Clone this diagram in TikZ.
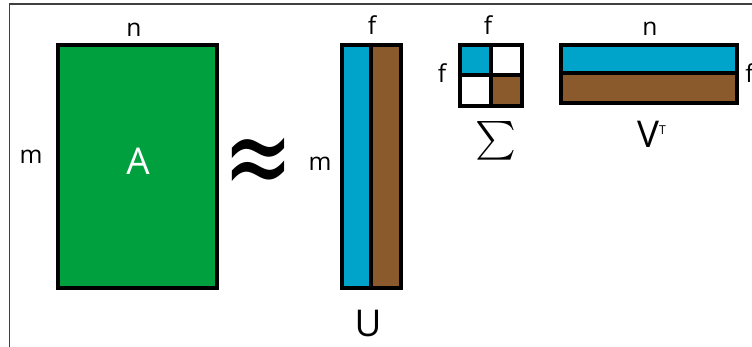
\documentclass[tikz,border=0pt]{standalone}
\usepackage{fontspec}
\setmainfont{Open Sans}
\newfontfamily\symbfont{DejaVu Sans}
\definecolor{matgreen}{RGB}{0,160,62}
\definecolor{matblue}{RGB}{0,164,202}
\definecolor{matbrown}{RGB}{138,90,44}
\tikzset{
  matbox/.style={draw=black, line width=2pt},
  dimlabel/.style={font=\fontsize{14}{14}\selectfont, anchor=base, inner sep=0pt},
  namelabel/.style={font=\fontsize{21}{21}\selectfont, anchor=base, inner sep=0pt},
}
\begin{document}
\begin{tikzpicture}[x=0.02cm, y=-0.02cm]
\useasboundingbox (0,0) rectangle (752,347);

% Cornice
\draw[line width=1pt, black!75] (9.5,347) -- (9.5,4) -- (752,4);

% Matrice A
\filldraw[matbox, fill=matgreen] (58,45) rectangle (217,288);
\node[namelabel, white] (labA) at (138,175) {A};
\node[dimlabel] (nA) at (134,37) {n};
\node[dimlabel] (mA) at (31,164) {m};

% Simbolo
\node[font=\symbfont\fontsize{38}{38}\selectfont, inner sep=0pt] (approx) at (258,168) {\scalebox{1.25}[1.8]{≈}};

% Matrice U
\fill[matblue] (342,45) rectangle (371,288);
\fill[matbrown] (371,45) rectangle (401,288);
\draw[matbox] (342,45) rectangle (401,288) (371,45) -- (371,288);
\node[namelabel] (labU) at (368,337) {U};
\node[dimlabel] (fU) at (372,35) {f};
\node[dimlabel] (mU) at (320,171) {m};

% Matrice Sigma
\fill[matblue] (460,45) rectangle (491,75);
\fill[matbrown] (491,75) rectangle (522,106);
\draw[matbox] (460,45) rectangle (522,106) (491,45) -- (491,106) (460,75) -- (522,75);
\node[inner sep=0pt] (labS) at (496,141) {\scalebox{2.2}{$\sum$}};
\node[dimlabel] (fStop) at (488,35) {f};
\node[dimlabel] (fSleft) at (442,83) {f};

% Matrice V trasposta
\fill[matblue] (561,45) rectangle (737,73);
\fill[matbrown] (561,73) rectangle (737,103);
\draw[matbox] (561,45) rectangle (737,103) (561,73) -- (737,73);
\node[namelabel] (labV) at (652,148) {V\textsuperscript{\fontsize{7}{7}\selectfont T}};
\node[dimlabel] (nV) at (650,36) {n};
\node[dimlabel, anchor=base west] (fV) at (745,83) {f};

\end{tikzpicture}
\end{document}
